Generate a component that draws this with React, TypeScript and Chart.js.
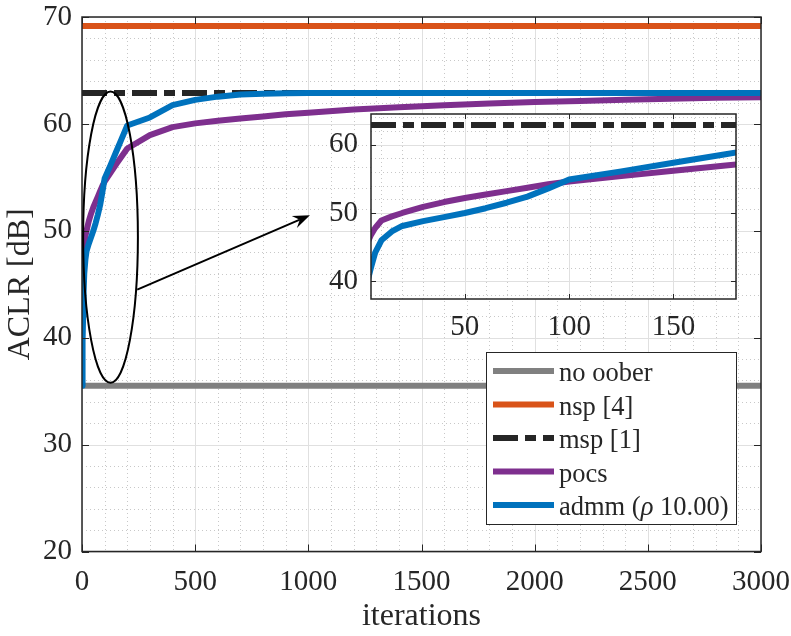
import React, { useEffect, useRef } from 'react';
import { Chart, registerables } from 'chart.js';

Chart.register(...registerables);

// ---------- data ----------
const iterations = [1, 2, 3, 5, 7, 10, 15, 20, 30, 40, 50, 60, 70, 80, 90, 100, 125, 150, 175, 200, 300, 400, 500, 600, 700, 800, 900, 1000, 1200, 1400, 1600, 1800, 2000, 2200, 2400, 2600, 2800, 3000];
const pocsValues = [42.6, 44.3, 45.4, 46.8, 47.8, 48.9, 49.5, 50.0, 50.9, 51.6, 52.2, 52.7, 53.2, 53.7, 54.2, 54.6, 55.4, 56.2, 56.95, 57.7, 58.95, 59.7, 60.05, 60.3, 60.5, 60.7, 60.9, 61.05, 61.35, 61.55, 61.75, 61.9, 62.05, 62.15, 62.25, 62.35, 62.45, 62.5];
const admmValues = [35.5, 37.6, 39.6, 42.0, 44.2, 46.0, 47.3, 48.1, 48.8, 49.4, 50.0, 50.7, 51.5, 52.4, 53.6, 54.9, 56.1, 57.35, 58.6, 59.85, 60.6, 61.75, 62.25, 62.55, 62.75, 62.82, 62.86, 62.88, 62.9, 62.9, 62.9, 62.9, 62.9, 62.9, 62.9, 62.9, 62.9, 62.9];
const noOoberLevel = 35.5;
const nspLevel = 69.15;
const mspLevel = 62.9;
const seriesLabels = ['no oober', 'nsp [4]', 'msp [1]', 'pocs', 'admm (ρ 10.00)'];
const seriesColors = ['#808080', '#D95319', '#262626', '#7E2F8E', '#0072BD'];

const mainXRange = [0, 3000];
const mainYRange = [20, 70];
const mainXTicks = [0, 500, 1000, 1500, 2000, 2500, 3000];
const mainYTicks = [20, 30, 40, 50, 60, 70];

const insetXRange = [5, 180];
const insetYRange = [37.4, 64.5];
const insetXTicks = [50, 100, 150];
const insetYTicks = [40, 50, 60];

// annotation (data units of the main axes)
const zoomEllipse = { x: 126, y: 49.4, rx: 121, ry: 13.62 };
const zoomArrow = { x1: 244, y1: 44.5, x2: 1007, y2: 51.45 };

// ---------- style ----------
const FONT = "'Liberation Serif', 'Times New Roman', Times, serif";
const AXIS_COLOR = '#262626';
const MSP_DASH = [25, 7, 11, 7];
const LINE_W = 6;
const TICK_SIZE = 29;
const LABEL_SIZE = 32;
const LEGEND_SIZE = 26.5;

function buildDatasets(xMin: number, xMax: number) {
  const flat = (v: number) => [{ x: xMin, y: v }, { x: xMax, y: v }];
  const curve = (ys: number[]) => iterations.map((x, i) => ({ x, y: ys[i] }));
  const line = (i: number, data: any[], order: number, dash: number[] = []) => ({
    label: seriesLabels[i],
    data,
    borderColor: seriesColors[i],
    backgroundColor: seriesColors[i],
    borderWidth: LINE_W,
    borderDash: dash,
    borderCapStyle: 'butt',
    borderJoinStyle: 'round',
    pointRadius: 0,
    fill: false,
    tension: 0,
    clip: 0,
    order,
  });
  return [
    line(0, flat(noOoberLevel), 4),
    line(1, flat(nspLevel), 3),
    line(2, flat(mspLevel), 2, MSP_DASH),
    line(3, curve(pocsValues), 1),
    line(4, curve(admmValues), 0),
  ];
}

function isMultiple(v: number, step: number) {
  return Math.abs(v / step - Math.round(v / step)) < 1e-6;
}

function framePlugin(o: { xMinor: number; yMinor: number; xMajor: number; yMajor: number; tickLen: number; fill: boolean }) {
  return {
    id: 'frame',
    beforeDatasetsDraw(chart: any) {
      const { ctx, chartArea: a } = chart;
      const xs = chart.scales.x;
      const ys = chart.scales.y;
      ctx.save();
      if (o.fill) {
        ctx.fillStyle = '#ffffff';
        ctx.fillRect(a.left, a.top, a.right - a.left, a.bottom - a.top);
      }
      ctx.lineWidth = 1;
      ctx.strokeStyle = '#c8c8c8';
      ctx.setLineDash([1, 3]);
      for (let k = Math.ceil(xs.min / o.xMinor); k * o.xMinor <= xs.max + 1e-9; k++) {
        const v = k * o.xMinor;
        if (isMultiple(v, o.xMajor)) continue;
        const px = Math.round(xs.getPixelForValue(v)) + 0.5;
        ctx.beginPath(); ctx.moveTo(px, a.top); ctx.lineTo(px, a.bottom); ctx.stroke();
      }
      for (let k = Math.ceil(ys.min / o.yMinor); k * o.yMinor <= ys.max + 1e-9; k++) {
        const v = k * o.yMinor;
        if (isMultiple(v, o.yMajor)) continue;
        const py = Math.round(ys.getPixelForValue(v)) + 0.5;
        ctx.beginPath(); ctx.moveTo(a.left, py); ctx.lineTo(a.right, py); ctx.stroke();
      }
      ctx.setLineDash([]);
      ctx.strokeStyle = '#e0e0e0';
      for (let k = Math.ceil(xs.min / o.xMajor); k * o.xMajor <= xs.max + 1e-9; k++) {
        const px = Math.round(xs.getPixelForValue(k * o.xMajor)) + 0.5;
        ctx.beginPath(); ctx.moveTo(px, a.top); ctx.lineTo(px, a.bottom); ctx.stroke();
      }
      for (let k = Math.ceil(ys.min / o.yMajor); k * o.yMajor <= ys.max + 1e-9; k++) {
        const py = Math.round(ys.getPixelForValue(k * o.yMajor)) + 0.5;
        ctx.beginPath(); ctx.moveTo(a.left, py); ctx.lineTo(a.right, py); ctx.stroke();
      }
      ctx.restore();
    },
    afterDatasetsDraw(chart: any) {
      const { ctx, chartArea: a } = chart;
      const xs = chart.scales.x;
      const ys = chart.scales.y;
      ctx.save();
      ctx.strokeStyle = AXIS_COLOR;
      ctx.lineWidth = 1;
      for (const t of xs.ticks) {
        const px = Math.round(xs.getPixelForValue(t.value)) + 0.5;
        ctx.beginPath();
        ctx.moveTo(px, a.bottom); ctx.lineTo(px, a.bottom - o.tickLen);
        ctx.moveTo(px, a.top); ctx.lineTo(px, a.top + o.tickLen);
        ctx.stroke();
      }
      for (const t of ys.ticks) {
        const py = Math.round(ys.getPixelForValue(t.value)) + 0.5;
        ctx.beginPath();
        ctx.moveTo(a.left, py); ctx.lineTo(a.left + o.tickLen, py);
        ctx.moveTo(a.right, py); ctx.lineTo(a.right - o.tickLen, py);
        ctx.stroke();
      }
      ctx.lineWidth = 1.5;
      ctx.strokeRect(a.left, a.top, a.right - a.left, a.bottom - a.top);
      ctx.restore();
    },
  };
}

const annotationPlugin = {
  id: 'zoomAnnotation',
  afterDatasetsDraw(chart: any) {
    const { ctx } = chart;
    const xs = chart.scales.x;
    const ys = chart.scales.y;
    ctx.save();
    ctx.strokeStyle = '#000000';
    ctx.fillStyle = '#000000';
    ctx.lineWidth = 2;
    const cx = xs.getPixelForValue(zoomEllipse.x);
    const cy = ys.getPixelForValue(zoomEllipse.y);
    const rx = Math.abs(xs.getPixelForValue(zoomEllipse.x + zoomEllipse.rx) - cx);
    const ry = Math.abs(ys.getPixelForValue(zoomEllipse.y + zoomEllipse.ry) - cy);
    ctx.beginPath();
    ctx.ellipse(cx, cy, rx, ry, 0, 0, Math.PI * 2);
    ctx.stroke();
    const x1 = xs.getPixelForValue(zoomArrow.x1);
    const y1 = ys.getPixelForValue(zoomArrow.y1);
    const x2 = xs.getPixelForValue(zoomArrow.x2);
    const y2 = ys.getPixelForValue(zoomArrow.y2);
    const ang = Math.atan2(y2 - y1, x2 - x1);
    const hl = 17, hw = 6.5, notch = 11;
    const ux = Math.cos(ang), uy = Math.sin(ang);
    ctx.beginPath();
    ctx.moveTo(x1, y1);
    ctx.lineTo(x2 - ux * notch, y2 - uy * notch);
    ctx.stroke();
    ctx.beginPath();
    ctx.moveTo(x2, y2);
    ctx.lineTo(x2 - ux * hl - uy * hw, y2 - uy * hl + ux * hw);
    ctx.lineTo(x2 - ux * notch, y2 - uy * notch);
    ctx.lineTo(x2 - ux * hl + uy * hw, y2 - uy * hl - ux * hw);
    ctx.closePath();
    ctx.fill();
    ctx.restore();
  },
};

const legendPlugin = {
  id: 'boxLegend',
  afterDraw(chart: any) {
    const { ctx, chartArea: a } = chart;
    const w = 250, h = 172;
    const right = a.right - 25;
    const bottom = a.bottom - 27.5;
    const left = right - w;
    const top = bottom - h;
    ctx.save();
    ctx.fillStyle = '#ffffff';
    ctx.fillRect(left, top, w, h);
    ctx.strokeStyle = AXIS_COLOR;
    ctx.lineWidth = 1;
    ctx.strokeRect(Math.round(left) + 0.5, Math.round(top) + 0.5, w, h);
    chart.data.datasets.forEach((ds: any, i: number) => {
      const yRow = top + 19 + i * 33.5;
      ctx.strokeStyle = ds.borderColor;
      ctx.lineWidth = LINE_W;
      ctx.lineCap = 'butt';
      ctx.setLineDash(ds.borderDash || []);
      ctx.beginPath();
      ctx.moveTo(left + 7, yRow);
      ctx.lineTo(left + 68, yRow);
      ctx.stroke();
      ctx.setLineDash([]);
      ctx.fillStyle = AXIS_COLOR;
      ctx.textBaseline = 'alphabetic';
      ctx.textAlign = 'left';
      let tx = left + 73;
      const parts = String(ds.label).split(/(ρ)/);
      for (const p of parts) {
        if (!p) continue;
        ctx.font = (p === 'ρ' ? 'italic ' : '') + LEGEND_SIZE + 'px ' + FONT;
        ctx.fillText(p, tx, yRow + 10);
        tx += ctx.measureText(p).width;
      }
    });
    ctx.restore();
  },
};

const plainTick = (v: any) => String(v);

function mainConfig(): any {
  return {
    type: 'line',
    data: { datasets: buildDatasets(mainXRange[0], mainXRange[1]) },
    options: {
      animation: false,
      responsive: false,
      maintainAspectRatio: false,
      layout: { padding: { left: 0, top: 17, right: 30, bottom: 0 } },
      plugins: { legend: { display: false }, tooltip: { enabled: false } },
      scales: {
        x: {
          type: 'linear',
          min: mainXRange[0],
          max: mainXRange[1],
          afterBuildTicks: (s: any) => { s.ticks = mainXTicks.map((v) => ({ value: v })); },
          afterFit: (s: any) => { s.height = 84.5; s.paddingLeft = 0; s.paddingRight = 0; },
          grid: { display: false, drawTicks: false },
          border: { display: false },
          ticks: { font: { family: FONT, size: TICK_SIZE }, color: AXIS_COLOR, padding: 13, maxRotation: 0, autoSkip: false, callback: plainTick },
          title: { display: true, text: 'iterations', font: { family: FONT, size: LABEL_SIZE }, color: AXIS_COLOR, padding: { top: 0, bottom: 0 } },
        },
        y: {
          type: 'linear',
          min: mainYRange[0],
          max: mainYRange[1],
          afterBuildTicks: (s: any) => { s.ticks = mainYTicks.map((v) => ({ value: v })); },
          afterFit: (s: any) => { s.width = 82; s.paddingTop = 0; s.paddingBottom = 0; },
          grid: { display: false, drawTicks: false },
          border: { display: false },
          ticks: { font: { family: FONT, size: TICK_SIZE }, color: AXIS_COLOR, padding: 10, autoSkip: false, callback: plainTick },
          title: { display: true, text: 'ACLR [dB]', font: { family: FONT, size: LABEL_SIZE }, color: AXIS_COLOR, padding: { top: 1, bottom: 0 } },
        },
      },
    },
    plugins: [framePlugin({ xMinor: 100, yMinor: 2, xMajor: 500, yMajor: 10, tickLen: 7, fill: false }), annotationPlugin, legendPlugin],
  };
}

function insetConfig(): any {
  return {
    type: 'line',
    data: { datasets: buildDatasets(insetXRange[0], insetXRange[1]) },
    options: {
      animation: false,
      responsive: false,
      maintainAspectRatio: false,
      layout: { padding: { left: 0, top: 14, right: 55, bottom: 0 } },
      plugins: { legend: { display: false }, tooltip: { enabled: false } },
      scales: {
        x: {
          type: 'linear',
          min: insetXRange[0],
          max: insetXRange[1],
          afterBuildTicks: (s: any) => { s.ticks = insetXTicks.map((v) => ({ value: v })); },
          afterFit: (s: any) => { s.height = 61; s.paddingLeft = 0; s.paddingRight = 0; },
          grid: { display: false, drawTicks: false },
          border: { display: false },
          ticks: { font: { family: FONT, size: TICK_SIZE }, color: AXIS_COLOR, padding: 11, maxRotation: 0, autoSkip: false, callback: plainTick },
        },
        y: {
          type: 'linear',
          min: insetYRange[0],
          max: insetYRange[1],
          afterBuildTicks: (s: any) => { s.ticks = insetYTicks.map((v) => ({ value: v })); },
          afterFit: (s: any) => { s.width = 71; s.paddingTop = 0; s.paddingBottom = 0; },
          grid: { display: false, drawTicks: false },
          border: { display: false },
          ticks: { font: { family: FONT, size: TICK_SIZE }, color: AXIS_COLOR, padding: 13, autoSkip: false, callback: plainTick },
        },
      },
    },
    plugins: [framePlugin({ xMinor: 10, yMinor: 2, xMajor: 50, yMajor: 10, tickLen: 5, fill: true })],
  };
}

export default function App() {
  const mainRef = useRef<HTMLCanvasElement>(null);
  const insetRef = useRef<HTMLCanvasElement>(null);
  useEffect(() => {
    const main = new Chart(mainRef.current as HTMLCanvasElement, mainConfig());
    const inset = new Chart(insetRef.current as HTMLCanvasElement, insetConfig());
    return () => {
      main.destroy();
      inset.destroy();
    };
  }, []);
  return (
    <div style={{ position: 'fixed', left: 0, top: 0, width: 791, height: 636, background: '#ffffff', overflow: 'hidden' }}>
      <canvas ref={mainRef} width={791} height={636} style={{ position: 'absolute', left: 0, top: 0, width: 791, height: 636 }} />
      <canvas ref={insetRef} width={491} height={260} style={{ position: 'absolute', left: 300, top: 100, width: 491, height: 260 }} />
    </div>
  );
}
